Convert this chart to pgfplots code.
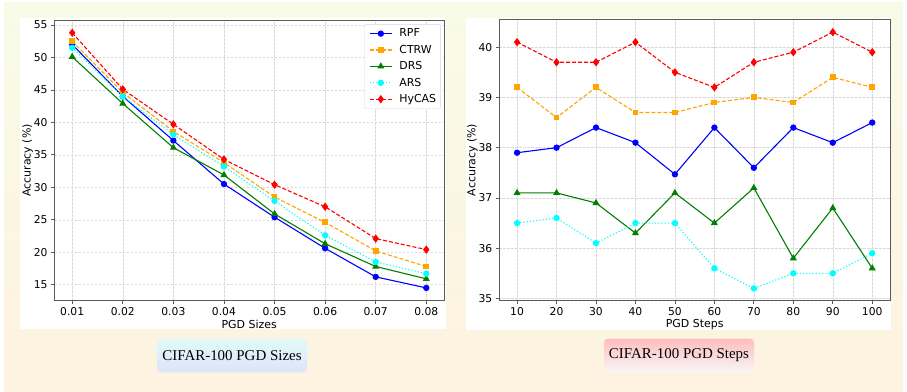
\documentclass[border=0pt]{standalone}
\usepackage{fontspec}
\setmainfont{DejaVu Sans}
\newfontfamily\capfont{Liberation Serif}
\usepackage{pgfplots}
\pgfplotsset{compat=1.18}
\usepackage{pgfplotstable}

\definecolor{bgtop}{HTML}{F8FBE8}
\definecolor{bgbot}{HTML}{FEF2E0}
\definecolor{capAtop}{HTML}{E2FAF6}
\definecolor{capAbot}{HTML}{DCE4FA}
\definecolor{capBtop}{HTML}{FFBDBD}
\definecolor{capBbot}{HTML}{F7F7F7}
\definecolor{mplorange}{HTML}{FFA500}
\definecolor{mplgreen}{HTML}{008000}
\definecolor{mplcyan}{HTML}{00FFFF}
\definecolor{mplblue}{HTML}{0000FF}
\definecolor{mplred}{HTML}{FF0000}
\definecolor{gridc}{HTML}{D8D8D8}
\definecolor{spine}{HTML}{5A5A5A}

\pgfplotstableread{
x rpf ctrw drs ars hycas
0.01 52.0 52.5 50.1 51.5 53.8
0.02 44.0 44.6 42.9 44.0 45.1
0.03 37.2 38.6 36.1 38.1 39.7
0.04 30.5 33.8 31.9 33.2 34.3
0.05 25.4 28.5 25.9 27.9 30.4
0.06 20.6 24.6 21.3 22.6 27.0
0.07 16.2 20.2 17.8 18.5 22.1
0.08 14.5 17.8 15.9 16.7 20.4
}\sizes

\pgfplotstableread{
x rpf ctrw drs ars hycas
10 37.9 39.2 37.1 36.5 40.1
20 38.0 38.6 37.1 36.6 39.7
30 38.4 39.2 36.9 36.1 39.7
40 38.1 38.7 36.3 36.5 40.1
50 37.47 38.7 37.1 36.5 39.5
60 38.4 38.9 36.5 35.6 39.2
70 37.6 39.0 37.2 35.2 39.7
80 38.4 38.9 35.8 35.5 39.9
90 38.1 39.4 36.8 35.5 40.3
100 38.5 39.2 35.6 35.9 39.9
}\steps

\pgfplotsset{
  mystyle/.style={
    scale only axis,
    axis line style={spine, line width=0.8bp},
    grid=major,
    major grid style={gridc, dash pattern=on 2.5bp off 1.5bp, line width=0.5bp},
    tick align=outside,
    tick pos=left,
    major tick length=3.5bp,
    tick style={spine, line width=0.8bp},
    ticklabel style={font=\fontsize{10.8}{12}\selectfont},
    scaled x ticks=false, scaled y ticks=false,
    /pgf/number format/assume math mode=true,
    every axis x label/.style={at={(axis description cs:0.5,-0.0855)}, anchor=center, font=\fontsize{11}{12}\selectfont},
    every axis y label/.style={at={(axis description cs:-0.069,0.5)}, rotate=90, anchor=center, font=\fontsize{11}{12}\selectfont},
    legend image code/.code={
      \path (-2bp,0bp) (27bp,0bp);
      \draw[mark repeat=2,mark phase=2] plot coordinates {(0bp,0bp)(11bp,0bp)(22bp,0bp)};
    },
  },
  srpf/.style={mplblue, line width=1.1bp, mark=*, mark size=2.6bp, mark options={solid}},
  sctrw/.style={mplorange, line width=1.1bp, dash pattern=on 4bp off 2bp, mark=square*, mark size=2.4bp, mark options={solid}},
  sdrs/.style={mplgreen, line width=1.1bp, mark=triangle*, mark size=3bp, mark options={solid}},
  sars/.style={mplcyan, line width=1.1bp, dash pattern=on 1.2bp off 2bp, mark=*, mark size=2.6bp, mark options={solid}},
  shycas/.style={mplred, line width=1.1bp, dash pattern=on 4bp off 2bp, mark=diamond*, mark size=3.3bp, mark options={solid}},
}

\begin{document}
\begin{tikzpicture}[x=1bp,y=1bp]
\useasboundingbox (0,0) rectangle (907,391);
\fill[white] (0,0) rectangle (907,391);
\shade[top color=bgtop, bottom color=bgbot] (4,0) rectangle (903,388);
% white panels
\fill[white] (20,62) rectangle (446,373);
\fill[white] (466,61) rectangle (891,373);
% captions
\shade[top color=capAtop, bottom color=capAbot, rounded corners=4bp] (157,18.7) rectangle (307,52.3);
\node[font=\capfont\fontsize{15}{18}\selectfont] at (232,35.5) {CIFAR-100 PGD Sizes};
\shade[top color=capBtop, bottom color=capBbot, rounded corners=4bp] (604,18.7) rectangle (754,52.3);
\node[font=\capfont\fontsize{15}{18}\selectfont] at (679,35.5) {CIFAR-100 PGD Steps};

\begin{axis}[mystyle,
  at={(54.5bp,90.3bp)}, anchor=south west,
  width=389.5bp, height=280.7bp,
  xmin=0.0065, xmax=0.0835, ymin=12.53, ymax=55.77,
  xtick={0.01,0.02,0.03,0.04,0.05,0.06,0.07,0.08},
  xticklabels={0.01,0.02,0.03,0.04,0.05,0.06,0.07,0.08},
  ytick={15,20,25,30,35,40,45,50,55},
  xlabel={PGD Sizes}, ylabel={Accuracy (\%)},
  legend style={at={(0.992,0.985)}, anchor=north east, draw=gridc, rounded corners=2bp,
    font=\fontsize{11}{12}\selectfont, row sep=2.8bp, inner sep=2.5bp},
  legend cell align=left,
]
\addplot[srpf] table[x=x,y=rpf] {\sizes};
\addlegendentry{RPF}
\addplot[sctrw] table[x=x,y=ctrw] {\sizes};
\addlegendentry{CTRW}
\addplot[sdrs] table[x=x,y=drs] {\sizes};
\addlegendentry{DRS}
\addplot[sars] table[x=x,y=ars] {\sizes};
\addlegendentry{ARS}
\addplot[shycas] table[x=x,y=hycas] {\sizes};
\addlegendentry{HyCAS}
\end{axis}

\begin{axis}[mystyle,
  at={(499.3bp,90.3bp)}, anchor=south west,
  width=390.7bp, height=281.4bp,
  xmin=5.5, xmax=104.5, ymin=34.955, ymax=40.555,
  xtick={10,20,...,100},
  ytick={35,36,37,38,39,40},
  xlabel={PGD Steps}, ylabel={Accuracy (\%)},
]
\addplot[srpf] table[x=x,y=rpf] {\steps};
\addplot[sctrw] table[x=x,y=ctrw] {\steps};
\addplot[sdrs] table[x=x,y=drs] {\steps};
\addplot[sars] table[x=x,y=ars] {\steps};
\addplot[shycas] table[x=x,y=hycas] {\steps};
\end{axis}
\end{tikzpicture}
\end{document}
